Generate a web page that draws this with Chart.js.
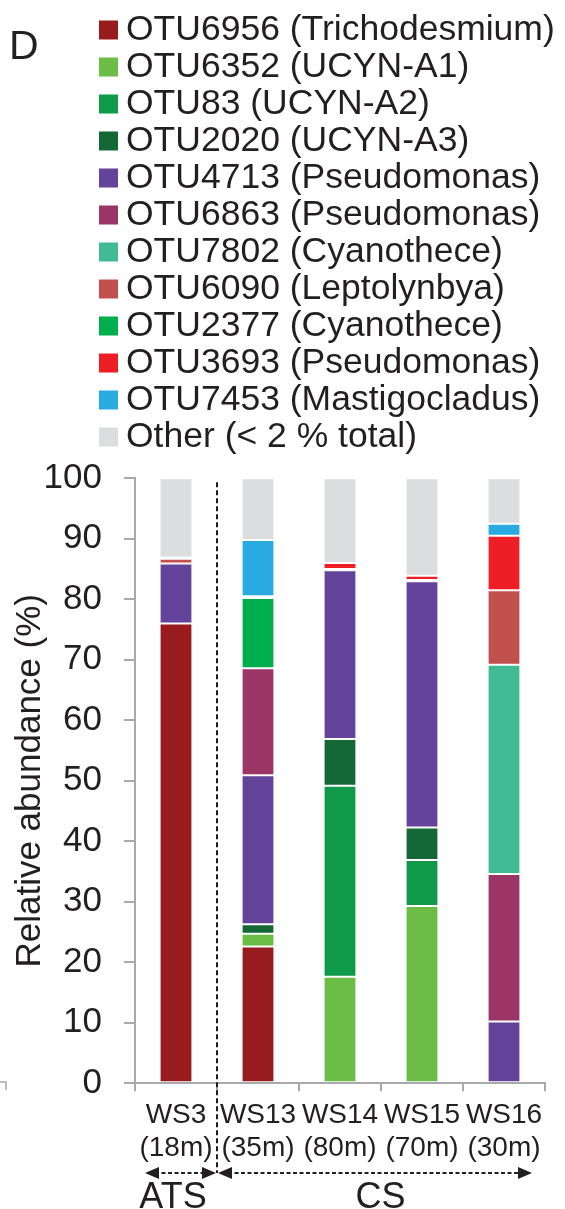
<!DOCTYPE html>
<html lang="en">
<head>
  <meta charset="UTF-8">
  <title>Relative abundance D</title>
  <script src="https://cdn.jsdelivr.net/npm/chart.js"></script>
  <style>
    body { margin: 0; background: #fff; }
    #wrap { width: 565px; height: 1209px; position: relative; }
  </style>
</head>
<body>
  <div id="wrap"><canvas id="chart"></canvas></div>

  <script>
    // stations (two label lines each)
    const stations = [['WS3', '(18m)'], ['WS13', '(35m)'], ['WS14', '(80m)'], ['WS15', '(70m)'], ['WS16', '(30m)']];
    const yTicks = [0, 10, 20, 30, 40, 50, 60, 70, 80, 90, 100];

    // OTU names, bottom of stack first
    const otuNames = [
      'OTU6956 (Trichodesmium)', 'OTU6352 (UCYN-A1)', 'OTU83 (UCYN-A2)', 'OTU2020 (UCYN-A3)',
      'OTU4713 (Pseudomonas)', 'OTU6863 (Pseudomonas)', 'OTU7802 (Cyanothece)', 'OTU6090 (Leptolynbya)',
      'OTU2377 (Cyanothece)', 'OTU3693 (Pseudomonas)', 'OTU7453 (Mastigocladus)', 'Other (< 2 % total)'
    ];
    const otuColors = ['#981b1e', '#6bbd45', '#0e9a48', '#136835', '#63449a', '#9a3565',
                       '#42bb94', '#c2504f', '#00ae4d', '#ed1f24', '#29abe2', '#dcdddf'];

    // relative abundance (%) per station: WS3, WS13, WS14, WS15, WS16
    const otu6956 = [76.0, 22.6, 0, 0, 0];
    const otu6352 = [0, 2.1, 17.6, 29.3, 0];
    const otu83   = [0, 0, 31.6, 7.6, 0];
    const otu2020 = [0, 1.6, 7.7, 5.4, 0];
    const otu4713 = [9.9, 24.6, 27.9, 40.7, 10.2];
    const otu6863 = [0, 17.7, 0, 0, 24.4];
    const otu7802 = [0, 0, 0, 0, 34.6];
    const otu6090 = [0.8, 0, 0.2, 0.2, 12.3];
    const otu2377 = [0, 11.6, 0, 0, 0];
    const otu3693 = [0, 0.3, 1.0, 0.7, 9.0];
    const otu7453 = [0.2, 9.3, 0, 0, 2.0];
    const other   = [13.1, 10.2, 14.0, 16.1, 7.5];

    const series = [otu6956, otu6352, otu83, otu2020, otu4713, otu6863, otu7802, otu6090, otu2377, otu3693, otu7453, other];

    const textColor = '#231f20';
    const axisColor = '#a7a9ac';
    Chart.defaults.font.family = "'Liberation Sans', Arial, Helvetica, sans-serif";
    Chart.defaults.color = textColor;

    const datasets = series.map((vals, i) => ({
      label: otuNames[i],
      data: vals,
      backgroundColor: otuColors[i],
      borderColor: 'rgba(255,255,255,0.35)',
      borderWidth: 1,
      borderSkipped: false,
      barPercentage: 0.4,
      categoryPercentage: 1
    }));

    // legend, panel letter, divider and region arrows
    const extras = {
      id: 'extras',
      afterDraw(chart) {
        const ctx = chart.ctx;
        const xs = chart.scales.x;
        ctx.save();

        ctx.fillStyle = textColor;
        ctx.font = "41px 'Liberation Sans', Arial, sans-serif";
        ctx.textBaseline = 'middle';
        ctx.textAlign = 'left';
        ctx.fillText('D', 9, 48);

        ctx.font = "35.5px 'Liberation Sans', Arial, sans-serif";
        chart.data.datasets.forEach((ds, i) => {
          const cy = 30 + i * 37;
          ctx.fillStyle = ds.backgroundColor;
          ctx.fillRect(99, cy - 9.5, 19, 19);
          ctx.fillStyle = textColor;
          ctx.fillText(ds.label, 126, cy);
        });

        // dashed divider between ATS and CS
        const p0 = xs.getPixelForValue(0);
        const p1 = xs.getPixelForValue(1);
        const p4 = xs.getPixelForValue(4);
        const div = (p0 + p1) / 2;
        const ay = 1173;
        ctx.strokeStyle = '#231f20';
        ctx.lineWidth = 2;
        ctx.setLineDash([5, 3]);
        ctx.beginPath();
        ctx.moveTo(div, chart.chartArea.top + 4);
        ctx.lineTo(div, ay);
        ctx.stroke();

        // arrows
        const arrow = (x1, x2) => {
          ctx.setLineDash([4, 2.5]);
          ctx.lineWidth = 1.8;
          ctx.beginPath();
          ctx.moveTo(x1 + 10, ay);
          ctx.lineTo(x2 - 10, ay);
          ctx.stroke();
          ctx.setLineDash([]);
          ctx.fillStyle = '#231f20';
          ctx.beginPath();
          ctx.moveTo(x1, ay); ctx.lineTo(x1 + 14, ay - 6); ctx.lineTo(x1 + 14, ay + 6); ctx.closePath();
          ctx.fill();
          ctx.beginPath();
          ctx.moveTo(x2, ay); ctx.lineTo(x2 - 14, ay - 6); ctx.lineTo(x2 - 14, ay + 6); ctx.closePath();
          ctx.fill();
        };
        arrow(p0 - 31, div - 1);
        arrow(div + 1, p4 + 28);

        ctx.fillStyle = textColor;
        ctx.font = "36px 'Liberation Sans', Arial, sans-serif";
        ctx.textAlign = 'center';
        ctx.textBaseline = 'alphabetic';
        ctx.fillText('ATS', (p0 - 31 + div) / 2 - 8, 1208);
        ctx.fillText('CS', (div + p4 + 28) / 2 + 6, 1208);

        // corner of the neighbouring panel
        ctx.strokeStyle = axisColor;
        ctx.lineWidth = 1.5;
        ctx.beginPath();
        ctx.moveTo(0, 1082); ctx.lineTo(6, 1082); ctx.lineTo(6, 1090);
        ctx.stroke();
        ctx.restore();
      }
    };

    new Chart(document.getElementById('chart'), {
      type: 'bar',
      data: { labels: stations, datasets },
      options: {
        responsive: true,
        maintainAspectRatio: false,
        animation: false,
        layout: { padding: { top: 478.3, right: 20, bottom: 0, left: 0 } },
        plugins: { legend: { display: false }, tooltip: { enabled: false } },
        scales: {
          x: {
            stacked: true,
            grid: { drawOnChartArea: false, drawTicks: true, tickLength: 8, color: axisColor, lineWidth: 2, offset: true },
            border: { color: axisColor, width: 2 },
            ticks: { font: { size: 28 }, color: textColor, padding: 7, maxRotation: 0, autoSkip: false },
            afterFit: s => { s.height = 125.7; }
          },
          y: {
            stacked: true,
            min: 0,
            max: 100,
            afterBuildTicks: s => { s.ticks = yTicks.map(v => ({ value: v })); },
            grid: { drawOnChartArea: false, drawTicks: true, tickLength: 11, color: axisColor, lineWidth: 2 },
            border: { color: axisColor, width: 2 },
            ticks: { font: { size: 35 }, color: textColor, padding: 22 },
            title: { display: true, text: 'Relative abundance (%)', font: { size: 35 }, color: textColor, padding: { top: 9, bottom: 0 } },
            afterFit: s => { s.width = 135; }
          }
        }
      },
      plugins: [extras]
    });
  </script>
</body>
</html>
